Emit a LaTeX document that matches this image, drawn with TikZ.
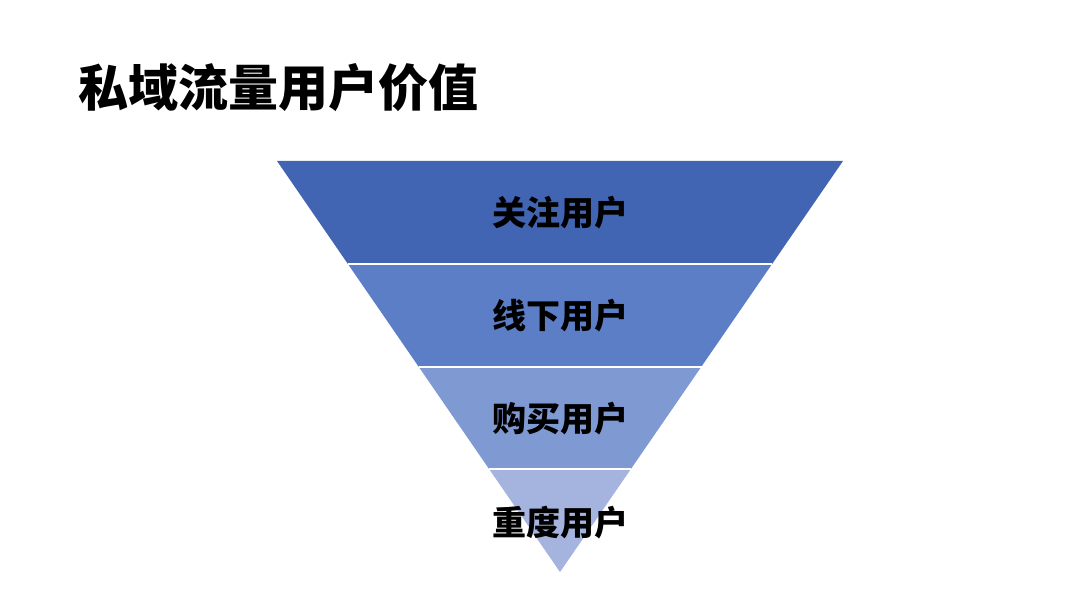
\documentclass[tikz,border=0pt]{standalone}
\usepackage{fontspec}
\newfontfamily\cjk{Noto Sans CJK SC}[BoldFont={Noto Sans CJK SC Black}]
\usetikzlibrary{calc}
\definecolor{layA}{HTML}{4165B2}
\definecolor{layB}{HTML}{5B7EC6}
\definecolor{layC}{HTML}{7F99D2}
\definecolor{layD}{HTML}{A5B4DF}
\tikzset{
  layer/.style={draw=white, line width=2pt, line join=miter},
  lab/.style={font=\cjk\bfseries\fontsize{34}{40}\selectfont, text=black, inner sep=0pt},
  ttl/.style={font=\cjk\bfseries\fontsize{50}{58}\selectfont, text=black, inner sep=0pt, anchor=west}
}
\begin{document}
\begin{tikzpicture}[x=1pt,y=-1pt]
\useasboundingbox[fill=white] (0,0) rectangle (1080,607);
\coordinate (L) at (277,161);
\coordinate (R) at (843,161);
\coordinate (A) at (560,572);
\foreach \i/\c in {0/layA,1/layB,2/layC} {
  \pgfmathsetmacro{\ta}{\i/4}
  \pgfmathsetmacro{\tb}{(\i+1)/4}
  \fill[\c] ($(L)!\ta!(A)$) -- ($(R)!\ta!(A)$) -- ($(R)!\tb!(A)$) -- ($(L)!\tb!(A)$) -- cycle;
}
\fill[layD] ($(L)!0.75!(A)$) -- ($(R)!0.75!(A)$) -- (A) -- cycle;
\foreach \t in {0.25,0.5,0.75} {
  \draw[white, line width=2pt] ($(L)!\t!(A)$) -- ($(R)!\t!(A)$);
}
\node[ttl] (title) at (78,88) {私域流量用户价值};
\node[lab] (l1) at (560,213) {关注用户};
\node[lab] (l2) at (560,316) {线下用户};
\node[lab] (l3) at (560,419) {购买用户};
\node[lab] (l4) at (560,523) {重度用户};
\end{tikzpicture}
\end{document}
